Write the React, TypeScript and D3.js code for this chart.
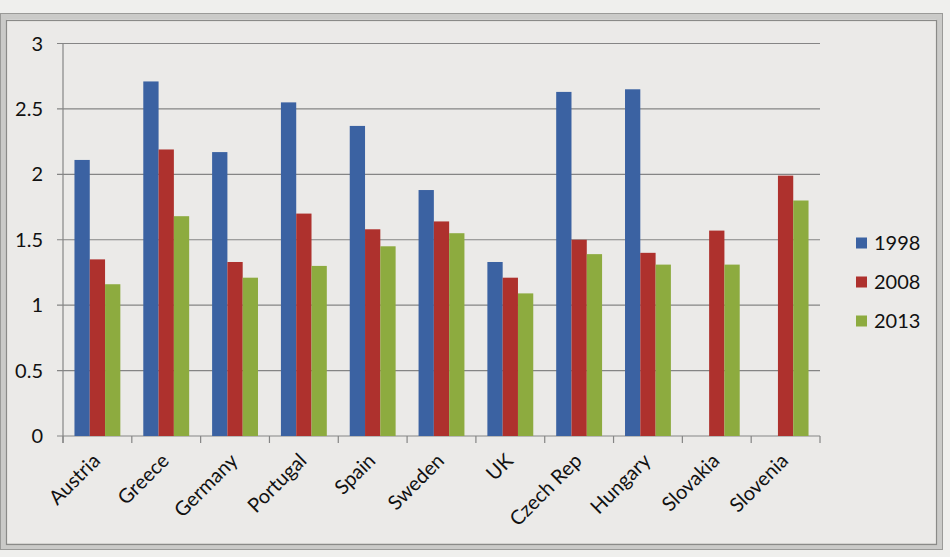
import React from 'react';
import * as d3 from 'd3';

const countries = ['Austria', 'Greece', 'Germany', 'Portugal', 'Spain', 'Sweden', 'UK', 'Czech Rep', 'Hungary', 'Slovakia', 'Slovenia'];
const years = ['1998', '2008', '2013'];
const v1998: (number | null)[] = [2.11, 2.71, 2.17, 2.55, 2.37, 1.88, 1.33, 2.63, 2.65, null, null];
const v2008: (number | null)[] = [1.35, 2.19, 1.33, 1.70, 1.58, 1.64, 1.21, 1.50, 1.40, 1.57, 1.99];
const v2013: (number | null)[] = [1.16, 1.68, 1.21, 1.30, 1.45, 1.55, 1.09, 1.39, 1.31, 1.31, 1.80];
const yTicks = [0, 0.5, 1, 1.5, 2, 2.5, 3];
const colors = ['#3b62a2', '#ae312d', '#8dab3f'];

const W = 950;
const H = 557;
const font = 'Lato, "Open Sans", sans-serif';

export default function App() {
  const series = [v1998, v2008, v2013];

  const x = d3.scaleBand<string>().domain(countries).range([63, 820]).padding(0);
  const inner = d3.scaleBand<string>().domain(years).range([0, x.bandwidth()]).paddingInner(0).paddingOuter(0.75);
  const y = d3.scaleLinear().domain([0, 3]).range([436, 43.5]);

  const boundaries = countries.map(c => x(c) as number).concat([820]);

  return (
    <svg width={W} height={H} style={{ position: 'fixed', left: 0, top: 0, background: '#efefed' }}>
      {/* chart frame */}
      <rect x={0} y={13} width={943} height={537} fill="#ebeae8" />
      <rect x={3.5} y={16.5} width={936} height={530} fill="none" stroke="#cacac8" strokeWidth={6} />
      <rect x={0.5} y={13.5} width={942} height={536} fill="none" stroke="#9a9a98" strokeWidth={1} />
      <rect x={6.5} y={20.5} width={930} height={524} fill="none" stroke="#8a8a88" strokeWidth={1.2} />

      {/* gridlines + y ticks */}
      {yTicks.map(t => (
        <g key={t}>
          <line x1={57} x2={820} y1={y(t)} y2={y(t)} stroke="#858585" strokeWidth={1.2} />
          <text x={43} y={y(t)} dy="0.35em" textAnchor="end" fontFamily={font} fontSize={20} fill="#111">
            {t}
          </text>
        </g>
      ))}
      <line x1={63} x2={63} y1={y(3)} y2={443} stroke="#858585" strokeWidth={1.2} />

      {/* category ticks */}
      {boundaries.map((b, i) => (
        <line key={i} x1={b} x2={b} y1={436} y2={443} stroke="#858585" strokeWidth={1.2} />
      ))}

      {/* bars */}
      {series.map((vals, si) =>
        vals.map((v, ci) =>
          v == null ? null : (
            <rect
              key={`${si}-${ci}`}
              x={(x(countries[ci]) as number) + (inner(years[si]) as number)}
              y={y(v)}
              width={inner.bandwidth()}
              height={y(0) - y(v)}
              fill={colors[si]}
            />
          )
        )
      )}

      {/* x labels */}
      {countries.map(c => {
        const cx = (x(c) as number) + x.bandwidth() / 2 + 4;
        return (
          <text key={c} transform={`translate(${cx},462) rotate(-45)`} textAnchor="end" fontFamily={font} fontSize={20} fill="#111">
            {c}
          </text>
        );
      })}

      {/* legend */}
      {years.map((yr, i) => (
        <g key={yr} transform={`translate(856,${243 + i * 39})`}>
          <rect x={0} y={-5.5} width={11} height={11} fill={colors[i]} />
          <text x={18} y={0} dy="0.36em" fontFamily={font} fontSize={20} fill="#111">
            {yr}
          </text>
        </g>
      ))}
    </svg>
  );
}
